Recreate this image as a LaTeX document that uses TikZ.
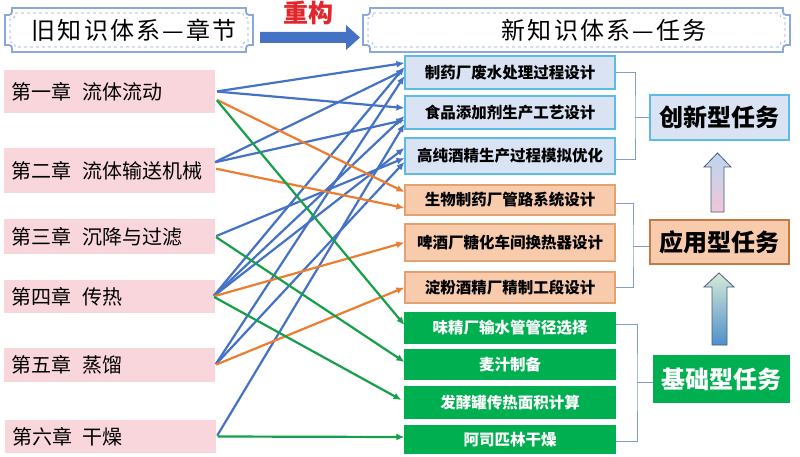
\documentclass[tikz,border=0pt]{standalone}
\usepackage{fontspec}
\usetikzlibrary{arrows.meta,calc}
\newfontfamily\cjk{Noto Sans CJK SC}
\definecolor{pinkbox}{HTML}{F9D6DC}
\definecolor{lnblue}{HTML}{4472C4}
\definecolor{lnorange}{HTML}{ED7D31}
\definecolor{lngreen}{HTML}{16A04A}
\definecolor{innofill}{HTML}{DAE3F3}
\definecolor{innodraw}{HTML}{5CBCE2}
\definecolor{applfill}{HTML}{F8CBAD}
\definecolor{appldraw}{HTML}{E2A271}
\definecolor{appldark}{HTML}{C47A45}
\definecolor{basicfill}{HTML}{00B050}
\definecolor{brk}{HTML}{7F9FD3}
\definecolor{plaq}{HTML}{8CA8D8}
\definecolor{redtxt}{HTML}{E3262B}
\definecolor{arrA}{HTML}{BCD6EE}
\definecolor{arrB}{HTML}{F1C6D8}
\definecolor{arrC}{HTML}{D6EAD6}
\definecolor{arrD}{HTML}{4F8FCC}
\definecolor{arrline}{HTML}{4A5A78}
\newcommand\myplaque[6]{%
  \draw[#6] (#1+#5,#2) -- (#3-#5,#2) .. controls (#3-#5,#2+#5) .. (#3,#2+#5)
    -- (#3,#4-#5) .. controls (#3-#5,#4-#5) .. (#3-#5,#4)
    -- (#1+#5,#4) .. controls (#1+#5,#4-#5) .. (#1,#4-#5)
    -- (#1,#2+#5) .. controls (#1+#5,#2+#5) .. (#1+#5,#2) -- cycle;}
\begin{document}
\begin{tikzpicture}[x=1pt,y=-1pt,
  chap/.style={fill=pinkbox, draw=none, text width=195pt, align=left, inner xsep=8pt, inner ysep=0pt,
    font=\cjk\fontsize{20}{20}\selectfont},
  taskbox/.style={minimum width=210pt, inner sep=0pt, line width=1.1pt,
    font=\cjk\bfseries\fontsize{15.5}{15.5}\selectfont},
  inno/.style={taskbox, fill=innofill, draw=innodraw},
  appl/.style={taskbox, fill=applfill, draw=appldraw},
  basic/.style={taskbox, fill=basicfill, draw=basicfill, text=white},
  lbl/.style={inner sep=0pt, line width=1.1pt, font=\cjk\bfseries\fontsize{24}{24}\selectfont},
  ab/.style={line width=2.2pt, -{Latex[length=8pt,width=7pt]}, shorten <=1pt},
  abl/.style={ab, draw=lnblue},
  abo/.style={ab, draw=lnorange},
  abg/.style={ab, draw=lngreen},
  brkline/.style={draw=brk, line width=1pt},
  hdr/.style={font=\cjk\fontsize{24}{24}\selectfont\addfontfeature{LetterSpace=9}, inner sep=0pt}
]
\useasboundingbox (0,0) rectangle (800,457);
\fill[white] (0,0) rectangle (800,457);

% headers
\myplaque{5}{8}{253}{52}{7}{draw=plaq, line width=1.8pt, fill=white}
\myplaque{10}{13}{248}{47}{5}{draw=plaq, line width=0.6pt, dashed}
\myplaque{363}{8}{790}{52}{7}{draw=plaq, line width=1.8pt, fill=white}
\myplaque{368}{13}{785}{47}{5}{draw=plaq, line width=0.6pt, dashed}
\node[hdr] (hL) at (134,30) {旧知识体系—章节};
\node[hdr] (hR) at (604,30) {新知识体系—任务};
\fill[lnblue] (260,32) -- (346,32) -- (346,25) -- (360,37.5) -- (346,50) -- (346,43) -- (260,43) -- cycle;
\node[font=\cjk\bfseries\fontsize{25}{25}\selectfont, text=redtxt, inner sep=0pt] (rc) at (308,13) {重构};

% chapters
\node[chap, minimum height=43pt] (c1) at (109.5,91.5) {第一章\hspace{0.5em}流体流动};
\node[chap, minimum height=45pt] (c2) at (109.5,170.5) {第二章\hspace{0.5em}流体输送机械};
\node[chap, minimum height=35pt] (c3) at (109.5,236.5) {第三章\hspace{0.5em}沉降与过滤};
\node[chap, minimum height=33pt] (c4) at (109.5,296.5) {第四章\hspace{0.5em}传热};
\node[chap, minimum height=34pt] (c5) at (109.5,365) {第五章\hspace{0.5em}蒸馏};
\node[chap, minimum height=33pt] (c6) at (110,436.5) {第六章\hspace{0.5em}干燥};

% tasks
\node[inno, minimum height=33pt] (t1) at (510,72.5) {制药厂废水处理过程设计};
\node[inno, minimum height=33pt] (t2) at (510,112.5) {食品添加剂生产工艺设计};
\node[inno, minimum height=36pt] (t3) at (510,156) {高纯酒精生产过程模拟优化};
\node[appl, minimum height=30pt] (t4) at (510,200) {生物制药厂管路系统设计};
\node[appl, minimum height=37pt] (t5) at (510,242.5) {啤酒厂糖化车间换热器设计};
\node[appl, minimum height=31pt] (t6) at (510,287.5) {淀粉酒精厂精制工段设计};
\node[basic, minimum height=30pt] (t7) at (510,328) {味精厂输水管管径选择};
\node[basic, minimum height=29pt] (t8) at (510,364.5) {麦汁制备};
\node[basic, minimum height=31pt] (t9) at (510,402.5) {发酵罐传热面积计算};
\node[basic, minimum height=27pt] (t10) at (510,439.5) {阿司匹林干燥};

% category labels
\node[lbl, fill=innofill, draw=innodraw, minimum width=139pt, minimum height=45pt] (inno) at (719.5,117.5) {创新型任务};
\node[lbl, fill=applfill, draw=appldark, minimum width=139pt, minimum height=44pt] (appl) at (719.5,242) {应用型任务};
\node[lbl, fill=basicfill, draw=basicfill, text=white, minimum width=135pt, minimum height=46pt] (basic) at (721.5,379) {基础型任务};

% brackets
\coordinate (b1) at (635,117.5);
\coordinate (b2) at (633,246);
\coordinate (b3) at (637,382);
\draw[brkline] (t1.east) -| (b1) |- ($(t3.east)+(0,4)$);
\draw[brkline] (b1) -- (inno.west);
\draw[brkline] ($(t4.east)+(0,4)$) -| (b2) |- (t6.east);
\draw[brkline] (b2) -- (b2 -| appl.west);
\draw[brkline] ($(t7.east)+(0,-4)$) -| (b3) |- ($(t10.east)+(0,1.5)$);
\draw[brkline] (b3) -- (b3 -| basic.west);

% up arrows
\draw[draw=arrline, line width=0.8pt, top color=arrA, bottom color=arrB]
  (711,212) -- (711,167) -- (704,167) -- (717.5,153) -- (731,167) -- (724,167) -- (724,212) -- cycle;
\draw[draw=arrline, line width=0.8pt, top color=arrC, bottom color=arrD]
  (712,345) -- (712,287) -- (704,287) -- (719,273) -- (734,287) -- (727,287) -- (727,345) -- cycle;

% blue connectors
\draw[abl] ($(c1.east)+(1,0)$) -- ($(t1.west)+(0,-9.5)$);
\draw[abl] ($(c1.east)+(1,0)$) -- ($(t2.west)+(0,-4.5)$);
\draw[abl] ($(c2.east)+(-1,-8)$) -- ($(t1.west)+(0,-2.5)$);
\draw[abl] ($(c2.east)+(-1,-8)$) -- ($(t2.west)+(0,7.5)$);
\draw[abl] (c3.east) -- ($(t3.west)+(0,2)$);
\draw[abl] ($(c4.east)+(-2,0)$) -- ($(t1.west)+(0,-5.5)$);
\draw[abl] ($(c4.east)+(-2,0)$) -- ($(t2.west)+(0,3.5)$);
\draw[abl] ($(c4.east)+(-2,0)$) -- ($(t3.west)+(0,-8)$);
\draw[abl] (c5.east) -- ($(t1.west)+(0,3.5)$);
\draw[abl] (c5.east) -- ($(t3.west)+(0,6)$);
\draw[abl] ($(c6.east)+(1,0)$) -- ($(t2.west)+(0,11.5)$);
% orange connectors
\draw[abo] ($(c1.east)+(1,8)$) -- ($(t4.west)+(0,-8)$);
\draw[abo] ($(c2.east)+(0,-2)$) -- ($(t4.west)+(0,8)$);
\draw[abo] ($(c4.east)+(-2,0)$) -- (t5.west);
\draw[abo] (c5.east) -- (t6.west);
% green connectors
\draw[abg] ($(c1.east)+(1,8)$) -- ($(t7.west)+(0,-3)$);
\draw[abg] (c3.east) -- ($(t8.west)+(0,-2.5)$);
\draw[abg] ($(c4.east)+(-2,0)$) -- ($(t9.west)+(-3,-2.5)$);
\draw[abg] ($(c6.east)+(1,0)$) -- ($(t10.west)+(0,-2.5)$);
\end{tikzpicture}
\end{document}
